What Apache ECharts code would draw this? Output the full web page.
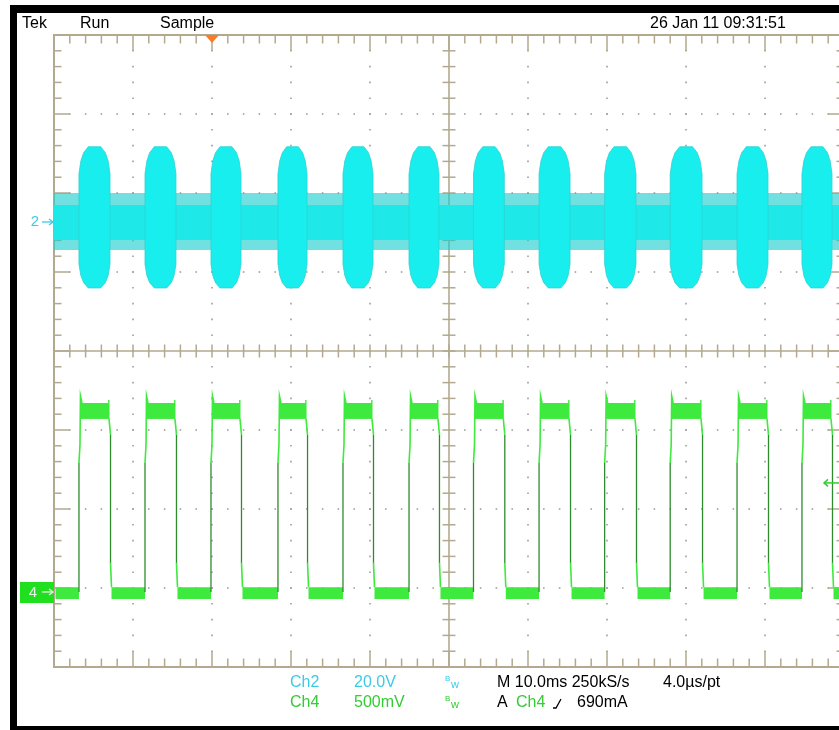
<!DOCTYPE html>
<html>
<head>
<meta charset="utf-8">
<script src="https://cdn.jsdelivr.net/npm/echarts/dist/echarts.min.js"></script>
<style>
html,body{margin:0;padding:0;background:#ffffff;}
#chart{width:839px;height:730px;}
</style>
</head>
<body>
<div id="chart"></div>
<script>
// ---------- time base: 10.0 ms/div, trigger (t = 0 ms) two divisions from the left
const timeMin = -20;
const timeMax = 80;
const timePerDiv = 10;
// ---------- vertical graticule (divisions)
const divMin = -4;
const divMax = 4;
const minorPerDiv = 5;

// ---------- channel settings (readout)
const ch2VoltsPerDiv = 20.0;
const ch2GroundDiv = 1.633;
const ch4AmpsPerDiv = 0.5;
const ch4GroundDiv = -3.05;
const ch4TriggerLevel = 0.69;   // A  (690mA)
const triggerTime = 0;          // ms

// ---------- Ch4 square wave edges (ms)
const pulseRise = [-16.84, -8.48, -0.13, 8.35, 16.58, 24.94, 33.10, 41.40, 49.70, 58.00, 66.46, 74.68];
const pulseFall = [-12.91, -4.56, 3.67, 12.03, 20.38, 28.73, 37.00, 45.32, 53.67, 62.03, 70.38, 78.48];

// ---------- Ch4 levels (A)
const ch4LowBand = [-0.045, 0.03];
const ch4HighBand = [1.095, 1.196];
const ch4RiseKnees = [0.816, 0.93, 1.24];
const ch4FallKnees = [0.994, 0.184];
const ch4EndSpike = 1.215;

// ---------- Ch2 levels (V)
const ch2NoiseOuter = [-7.09, 7.34];
const ch2NoiseInner = [-4.56, 4.3];
const ch2BurstPeak = [-16.7, 19.06];

// ---------- texts
const topLabels = [['Tek', 22], ['Run', 80], ['Sample', 160]];
const dateLabel = '26 Jan 11 09:31:51';

const tan = '#b2a98f';
const dotColor = '#9d9d9d';
const cyan = '#18eeee';
const green = '#3dea3d';
const darkGreen = '#2e8c2e';
const cyanText = '#3ccbe6';
const greenText = '#33cc33';

function rectBetween(api, t0, t1, v0, v1) {
  const a = api.coord([t0, v1]);
  const b = api.coord([t1, v0]);
  return { x: a[0], y: a[1], width: b[0] - a[0], height: b[1] - a[1] };
}

function renderGraticule(params, api) {
  const els = [];
  const c = (t, d) => api.coord([t, d]);
  const tStep = timePerDiv / minorPerDiv;
  const dStep = 1 / minorPerDiv;
  const nHDiv = Math.round((timeMax - timeMin) / timePerDiv);
  const nVDiv = Math.round(divMax - divMin);
  const nT = nHDiv * minorPerDiv;
  const nD = nVDiv * minorPerDiv;
  const midH = nHDiv / 2, midV = nVDiv / 2;
  const dot = (p) => els.push({ type: 'rect', shape: { x: p[0] - 0.8, y: p[1] - 0.8, width: 1.6, height: 1.6 }, style: { fill: dotColor } });
  // dotted major lines
  for (let i = 1; i < nHDiv; i++) {
    if (i === midH) continue;
    const t = timeMin + i * timePerDiv;
    for (let k = 1; k < nD; k++) dot(c(t, divMin + k * dStep));
  }
  for (let j = 1; j < nVDiv; j++) {
    if (j === midV) continue;
    const d = divMin + j;
    for (let k = 1; k < nT; k++) dot(c(timeMin + k * tStep, d));
  }
  const line = (p, q, w) => els.push({ type: 'line', shape: { x1: p[0], y1: p[1], x2: q[0], y2: q[1] }, style: { stroke: tan, lineWidth: w || 1.5 } });
  const tC = timeMin + midH * timePerDiv;
  const dC = divMin + midV;
  // center cross with ticks
  line(c(timeMin, dC), c(timeMax, dC), 1.6);
  line(c(tC, divMin), c(tC, divMax), 1.6);
  for (let k = 1; k < nT; k++) {
    const p = c(timeMin + k * tStep, dC);
    line([p[0], p[1] - 6.5], [p[0], p[1] + 6.5]);
  }
  for (let k = 1; k < nD; k++) {
    const p = c(tC, divMin + k * dStep);
    line([p[0] - 6.5, p[1]], [p[0] + 6.5, p[1]]);
  }
  // border ticks
  for (let k = 1; k < nT; k++) {
    const len = (k % minorPerDiv === 0) ? 16 : 8.5;
    const pt = c(timeMin + k * tStep, divMax);
    const pb = c(timeMin + k * tStep, divMin);
    line(pt, [pt[0], pt[1] + len]);
    line(pb, [pb[0], pb[1] - len]);
  }
  for (let k = 1; k < nD; k++) {
    const len = (k % minorPerDiv === 0) ? 16 : 7.5;
    const pl = c(timeMin, divMin + k * dStep);
    const pr = c(timeMax, divMin + k * dStep);
    line(pl, [pl[0] + len, pl[1]]);
    line(pr, [pr[0] - len, pr[1]]);
  }
  // border
  const tl = c(timeMin, divMax), br = c(timeMax, divMin);
  els.push({ type: 'rect', shape: { x: tl[0], y: tl[1], width: br[0] - tl[0], height: br[1] - tl[1] }, style: { fill: null, stroke: tan, lineWidth: 2 } });
  // trigger position marker
  const tp = c(triggerTime, divMax);
  els.push({ type: 'polygon', shape: { points: [[tp[0] - 7, tp[1]], [tp[0] + 7, tp[1]], [tp[0], tp[1] + 8]] }, style: { fill: '#fb7b2b' } });
  return { type: 'group', children: els };
}

function renderCh2Noise(params, api) {
  return {
    type: 'group', children: [
      { type: 'rect', shape: rectBetween(api, timeMin, timeMax, ch2NoiseOuter[0], ch2NoiseOuter[1]), style: { fill: 'rgba(24,205,205,0.62)' } },
      { type: 'rect', shape: rectBetween(api, timeMin, timeMax, ch2NoiseInner[0], ch2NoiseInner[1]), style: { fill: '#1ee8e8' } }
    ]
  };
}

// burst cap profile: [inset as fraction of burst width, fraction of peak]
const capShape = [[0.30, 1.0], [0.15, 0.92], [0.06, 0.81], [0, 0.64]];
function renderCh2Burst(params, api) {
  const r = api.value(0), f = api.value(1);
  const w = f - r;
  const top = ch2BurstPeak[1], bot = ch2BurstPeak[0];
  const pts = [];
  for (let k = capShape.length - 1; k >= 0; k--) pts.push(api.coord([r + capShape[k][0] * w, top * capShape[k][1]]));
  for (let k = 0; k < capShape.length; k++) pts.push(api.coord([f - capShape[k][0] * w, top * capShape[k][1]]));
  for (let k = capShape.length - 1; k >= 0; k--) pts.push(api.coord([f - capShape[k][0] * w, bot * capShape[k][1]]));
  for (let k = 0; k < capShape.length; k++) pts.push(api.coord([r + capShape[k][0] * w, bot * capShape[k][1]]));
  return { type: 'polygon', shape: { points: pts }, style: { fill: cyan, stroke: '#2fd2d2', lineWidth: 0.8 } };
}

function renderCh4Low(params, api) {
  const s = api.value(0), e = api.value(1);
  const sh = rectBetween(api, s, e, ch4LowBand[0], ch4LowBand[1]);
  sh.x += 1.5; sh.width -= 1.5;
  return { type: 'rect', shape: sh, style: { fill: green } };
}

function renderCh4Pulse(params, api) {
  const r = api.value(0), f = api.value(1);
  const c = (t, a) => api.coord([t, a]);
  const xr = c(r, 0)[0], xf = c(f, 0)[0];
  const y = (a) => c(r, a)[1];
  const els = [];
  // rising edge
  els.push({ type: 'line', shape: { x1: xr, y1: y(0), x2: xr, y2: y(ch4RiseKnees[0]) }, style: { stroke: darkGreen, lineWidth: 1.3 } });
  els.push({ type: 'polyline', shape: { points: [[xr, y(ch4RiseKnees[0])], [xr + 1, y(ch4RiseKnees[1])], [xr + 1.5, y(ch4RiseKnees[2])], [xr + 3, y(ch4HighBand[1])]] }, style: { stroke: green, lineWidth: 1.6, fill: null } });
  // plateau
  const pl = rectBetween(api, r, f, ch4HighBand[0], ch4HighBand[1]);
  pl.x += 1.5; pl.width -= 2.5;
  els.push({ type: 'rect', shape: pl, style: { fill: green } });
  els.push({ type: 'line', shape: { x1: xf - 1.2, y1: y(ch4HighBand[0]), x2: xf - 1.2, y2: y(ch4EndSpike) }, style: { stroke: green, lineWidth: 1.4 } });
  // falling edge
  els.push({ type: 'polyline', shape: { points: [[xf - 1, y(ch4HighBand[0])], [xf + 0.5, y(ch4FallKnees[0])]] }, style: { stroke: green, lineWidth: 1.6, fill: null } });
  els.push({ type: 'line', shape: { x1: xf + 0.5, y1: y(ch4FallKnees[0]), x2: xf + 0.5, y2: y(ch4FallKnees[1]) }, style: { stroke: darkGreen, lineWidth: 1.3 } });
  els.push({ type: 'polyline', shape: { points: [[xf + 0.5, y(ch4FallKnees[1])], [xf + 1.5, y(ch4LowBand[1])]] }, style: { stroke: green, lineWidth: 1.6, fill: null } });
  return { type: 'group', children: els };
}

function renderCh2Marker(params, api) {
  const p = api.coord([timeMin, 0]);
  return {
    type: 'group', children: [
      { type: 'text', style: { text: '2', x: p[0] - 19, y: p[1], fill: cyanText, font: '15px "Liberation Sans", Arial, sans-serif', align: 'center', verticalAlign: 'middle' } },
      { type: 'polyline', shape: { points: [[p[0] - 12, p[1]], [p[0] - 1, p[1]]] }, style: { stroke: cyanText, lineWidth: 1.3 } },
      { type: 'polyline', shape: { points: [[p[0] - 5, p[1] - 3], [p[0] - 1, p[1]], [p[0] - 5, p[1] + 3]] }, style: { stroke: cyanText, lineWidth: 1.3, fill: null } }
    ]
  };
}

function renderCh4Markers(params, api) {
  const g = api.coord([timeMin, 0]);
  const tr = api.coord([timeMax, ch4TriggerLevel]);
  return {
    type: 'group', children: [
      { type: 'rect', shape: { x: g[0] - 34, y: g[1] - 10, width: 34, height: 21 }, style: { fill: '#1fdf1f' } },
      { type: 'text', style: { text: '4', x: g[0] - 21, y: g[1] + 1, fill: '#e6f6e6', font: '15px "Liberation Sans", Arial, sans-serif', align: 'center', verticalAlign: 'middle' } },
      { type: 'polyline', shape: { points: [[g[0] - 12, g[1]], [g[0] - 1, g[1]]] }, style: { stroke: '#e6f6e6', lineWidth: 1.3 } },
      { type: 'polyline', shape: { points: [[g[0] - 5, g[1] - 3], [g[0] - 1, g[1]], [g[0] - 5, g[1] + 3]] }, style: { stroke: '#e6f6e6', lineWidth: 1.3, fill: null } },
      { type: 'polyline', shape: { points: [[tr[0] - 20, tr[1]], [tr[0] - 4, tr[1]]] }, style: { stroke: greenText, lineWidth: 1.5 } },
      { type: 'polyline', shape: { points: [[tr[0] - 16, tr[1] - 3.5], [tr[0] - 20, tr[1]], [tr[0] - 16, tr[1] + 3.5]] }, style: { stroke: greenText, lineWidth: 1.5, fill: null } }
    ]
  };
}

const lowStart = [timeMin].concat(pulseFall);
const lowEnd = pulseRise.concat([timeMax]);
const pulses = pulseRise.map((r, i) => [r, pulseFall[i]]);
const lows = lowStart.map((s, i) => [s, lowEnd[i]]);

const font = '16px "Liberation Sans", Arial, sans-serif';
function txt(text, x, y, fill, f) {
  return { type: 'text', style: { text: text, x: x, y: y, fill: fill || '#000', font: f || font, verticalAlign: 'middle' } };
}

const graphics = [
  { type: 'rect', shape: { x: 10, y: 5, width: 829, height: 8 }, style: { fill: '#000' } },
  { type: 'rect', shape: { x: 10, y: 5, width: 7, height: 725 }, style: { fill: '#000' } },
  { type: 'rect', shape: { x: 10, y: 726, width: 829, height: 4 }, style: { fill: '#000' } },
  txt(dateLabel, 650, 24),
  txt('Ch2', 290, 683, cyanText),
  txt('20.0V', 354, 683, cyanText),
  txt('B', 445, 679, cyanText, '8px "Liberation Sans", Arial, sans-serif'),
  txt('w', 451, 685, cyanText, '11px "Liberation Sans", Arial, sans-serif'),
  txt('M 10.0ms 250kS/s', 497, 683),
  txt('4.0\u00b5s/pt', 663, 683),
  txt('Ch4', 290, 703, greenText),
  txt('500mV', 354, 703, greenText),
  txt('B', 445, 699, greenText, '8px "Liberation Sans", Arial, sans-serif'),
  txt('w', 451, 705, greenText, '11px "Liberation Sans", Arial, sans-serif'),
  txt('A', 497, 703),
  txt('Ch4', 516, 703, greenText),
  { type: 'polyline', shape: { points: [[553, 708], [556, 708], [561, 699]] }, style: { stroke: '#000', lineWidth: 1.3, fill: null } },
  txt('690mA', 577, 703)
].concat(topLabels.map(l => txt(l[0], l[1], 24)));

const option = {
  animation: false,
  backgroundColor: '#ffffff',
  grid: { left: 54, top: 35, width: 790, height: 632, outerBoundsMode: 'none', containLabel: false },
  xAxis: [{ type: 'value', min: timeMin, max: timeMax, show: false }],
  yAxis: [
    { type: 'value', min: divMin, max: divMax, show: false },
    { type: 'value', min: (divMin - ch2GroundDiv) * ch2VoltsPerDiv, max: (divMax - ch2GroundDiv) * ch2VoltsPerDiv, show: false },
    { type: 'value', min: (divMin - ch4GroundDiv) * ch4AmpsPerDiv, max: (divMax - ch4GroundDiv) * ch4AmpsPerDiv, show: false }
  ],
  series: [
    { type: 'custom', name: 'graticule', xAxisIndex: 0, yAxisIndex: 0, data: [[0, 0]], renderItem: renderGraticule, silent: true, z: 1 },
    { type: 'custom', name: 'Ch2 noise', xAxisIndex: 0, yAxisIndex: 1, data: [[timeMin, timeMax]], renderItem: renderCh2Noise, z: 2 },
    { type: 'custom', name: 'Ch2 bursts', xAxisIndex: 0, yAxisIndex: 1, data: pulses, renderItem: renderCh2Burst, z: 3 },
    { type: 'custom', name: 'Ch4 low', xAxisIndex: 0, yAxisIndex: 2, data: lows, renderItem: renderCh4Low, z: 4 },
    { type: 'custom', name: 'Ch4 pulses', xAxisIndex: 0, yAxisIndex: 2, data: pulses, renderItem: renderCh4Pulse, z: 5 },
    { type: 'custom', name: 'Ch2 marker', xAxisIndex: 0, yAxisIndex: 1, data: [[timeMin, 0]], renderItem: renderCh2Marker, z: 6 },
    { type: 'custom', name: 'Ch4 markers', xAxisIndex: 0, yAxisIndex: 2, data: [[timeMin, 0]], renderItem: renderCh4Markers, z: 6 }
  ],
  graphic: graphics
};

const chart = echarts.init(document.getElementById('chart'));
chart.setOption(option);
</script>
</body>
</html>
